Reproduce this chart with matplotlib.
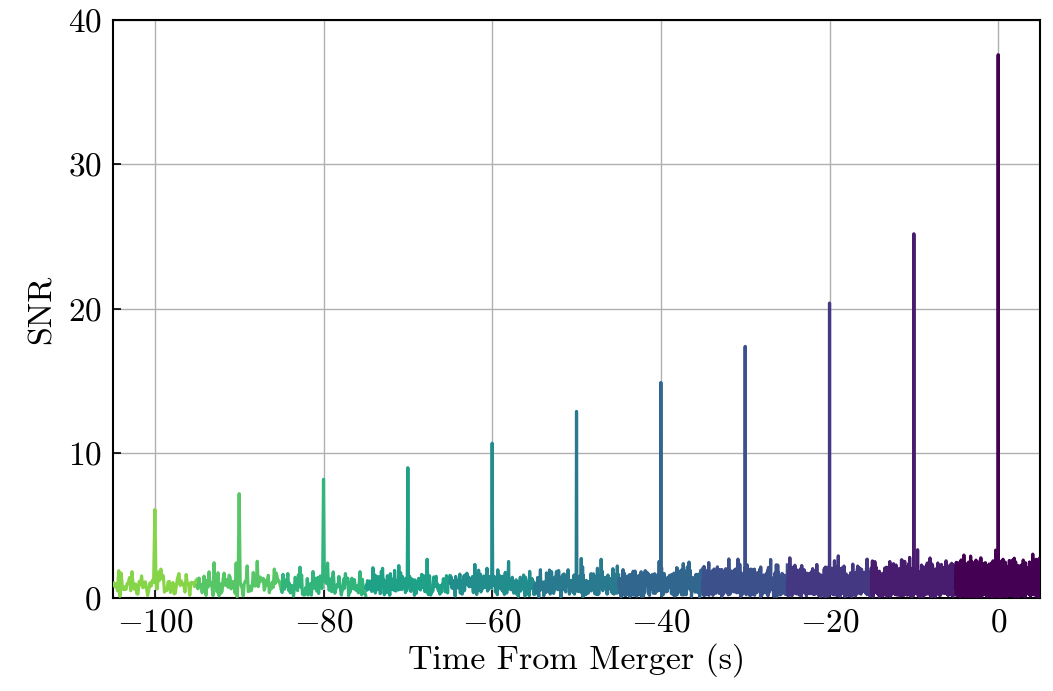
import numpy as np
import matplotlib
matplotlib.use("Agg")
import matplotlib.pyplot as plt
from matplotlib.ticker import FuncFormatter

plt.rcParams['font.family'] = 'cmr10'
plt.rcParams['mathtext.fontset'] = 'cm'
plt.rcParams['axes.formatter.use_mathtext'] = True

# injection times (s from merger) and peak SNR
peak_times = [-100, -90, -80, -70, -60, -50, -40, -30, -20, -10, 0]
peak_snr = [6.1, 7.2, 8.2, 9.0, 10.7, 12.9, 14.9, 17.4, 20.4, 25.2, 37.6]
# approximate top of the noise floor in each 10 s chunk
noise_top = [2.1, 2.2, 2.3, 2.2, 2.4, 2.5, 2.6, 2.7, 2.7, 2.9, 3.2]
# samples per chunk (later chunks are sampled more densely)
n_samples = [71, 85, 105, 141, 181, 251, 351, 501, 751, 1201, 2601]

rng = np.random.default_rng(7)  # noise texture only

fig, ax = plt.subplots(figsize=(10.53, 6.91), dpi=100)
fig.subplots_adjust(left=0.107, right=0.988, top=0.971, bottom=0.135)

colors = plt.cm.viridis(np.linspace(0.82, 0.0, len(peak_times)))

for _t, _peak, _top, _n, _c in zip(peak_times, peak_snr, noise_top, n_samples, colors):
    _x = np.linspace(_t - 5, _t + 5, _n)
    _sigma = _top / np.sqrt(2 * np.log(_n))
    _y = rng.rayleigh(_sigma, _n)
    _i = _n // 2
    _y[_i - 1] = max(_y[_i - 1], 0.5 * _top)
    _y[_i + 1] = max(_y[_i + 1], 0.5 * _top)
    _y[_i] = _peak
    ax.plot(_x, _y, color=_c, lw=2.3, zorder=3)

ax.set_xlim(-105, 5)
ax.set_ylim(0, 40)
ax.set_xticks(np.arange(-100, 1, 20))
ax.set_yticks(np.arange(0, 41, 10))
ax.xaxis.set_major_formatter(FuncFormatter(lambda v, p: f"${v:.0f}$"))
ax.yaxis.set_major_formatter(FuncFormatter(lambda v, p: f"${v:.0f}$"))
ax.tick_params(direction='in', length=6, width=1.2, labelsize=24, pad=8)
ax.grid(True, color='#b0b0b0', lw=1, zorder=0)
for _s in ax.spines.values():
    _s.set_linewidth(1.5)

ax.set_xlabel("Time From Merger (s)", fontsize=24.5, labelpad=4)
ax.set_ylabel("SNR", fontsize=24.5, labelpad=8)

fig.savefig("out.png", dpi=100)
